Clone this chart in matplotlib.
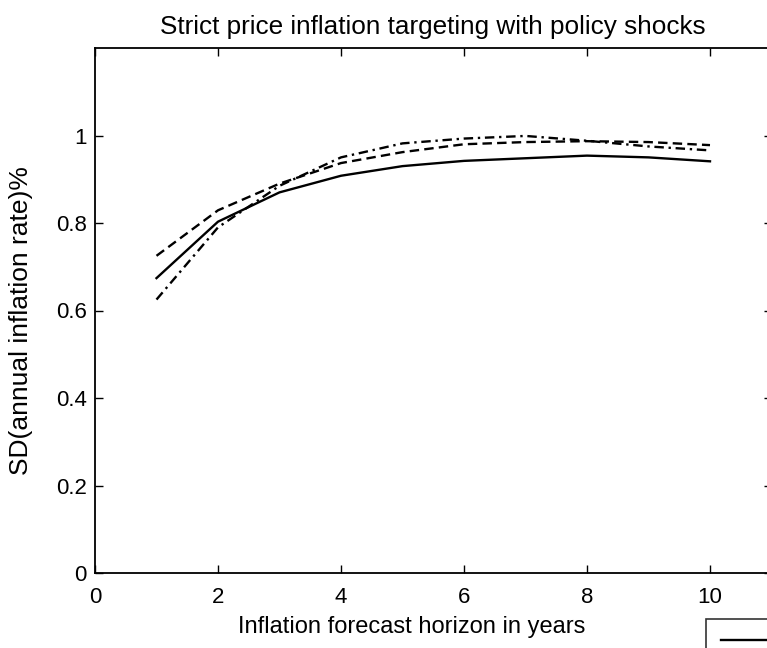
import matplotlib.pyplot as plt
import numpy as np

plt.rcParams['font.family'] = ['Liberation Sans', 'DejaVu Sans']

horizon = np.arange(1, 11)
sd_solid = [0.674, 0.803, 0.870, 0.908, 0.930, 0.942, 0.948, 0.954, 0.950, 0.941]
sd_dashed = [0.725, 0.829, 0.890, 0.937, 0.962, 0.980, 0.985, 0.987, 0.985, 0.978]
sd_dashdot = [0.625, 0.790, 0.885, 0.950, 0.982, 0.993, 0.999, 0.988, 0.975, 0.966]
legend_labels = ["", "", ""]

fig = plt.figure(figsize=(7.67, 6.48), dpi=100)
# axes runs past the right edge of the figure, as in the original crop
ax = fig.add_axes([95 / 767, (648 - 573) / 648, (771.5 - 95) / 767, (573 - 48) / 648])

l1, = ax.plot(horizon, sd_solid, color="black", linestyle="-", linewidth=1.7)
l2, = ax.plot(horizon, sd_dashed, color="black", linestyle=(0, (4, 2.2)), linewidth=1.7)
l3, = ax.plot(horizon, sd_dashdot, color="black", linestyle=(0, (4, 2, 1, 2)), linewidth=1.7)

ax.set_xlim(0, 11)
ax.set_ylim(0, 1.2)
ax.set_xticks([0, 2, 4, 6, 8, 10])
ax.set_yticks([0, 0.2, 0.4, 0.6, 0.8, 1])
ax.set_yticklabels(["0", "0.2", "0.4", "0.6", "0.8", "1"])
ax.tick_params(direction="in", length=6, width=1, top=True, right=True, labelsize=16)
ax.tick_params(axis="x", pad=10)
ax.tick_params(axis="y", pad=6)
for s in ax.spines.values():
    s.set_linewidth(1.3)

ax.set_title("Strict price inflation targeting with policy shocks", fontsize=18.8, pad=10)
ax.set_xlabel("Inflation forecast horizon in years", fontsize=17)
ax.set_ylabel("SD(annual inflation rate)%", fontsize=19)
ax.xaxis.set_label_coords(0.4686, -0.082)
ax.yaxis.set_label_coords(-0.092, 0.48)

leg = fig.legend([l1, l2, l3], legend_labels, loc="upper left",
                 bbox_to_anchor=(706 / 767, 1 - 619 / 648), frameon=True,
                 fancybox=False, edgecolor="black", handlelength=3, fontsize=14,
                 borderaxespad=0, borderpad=0.75)
leg.get_frame().set_linewidth(1.2)

fig.savefig("out.png", dpi=100)
